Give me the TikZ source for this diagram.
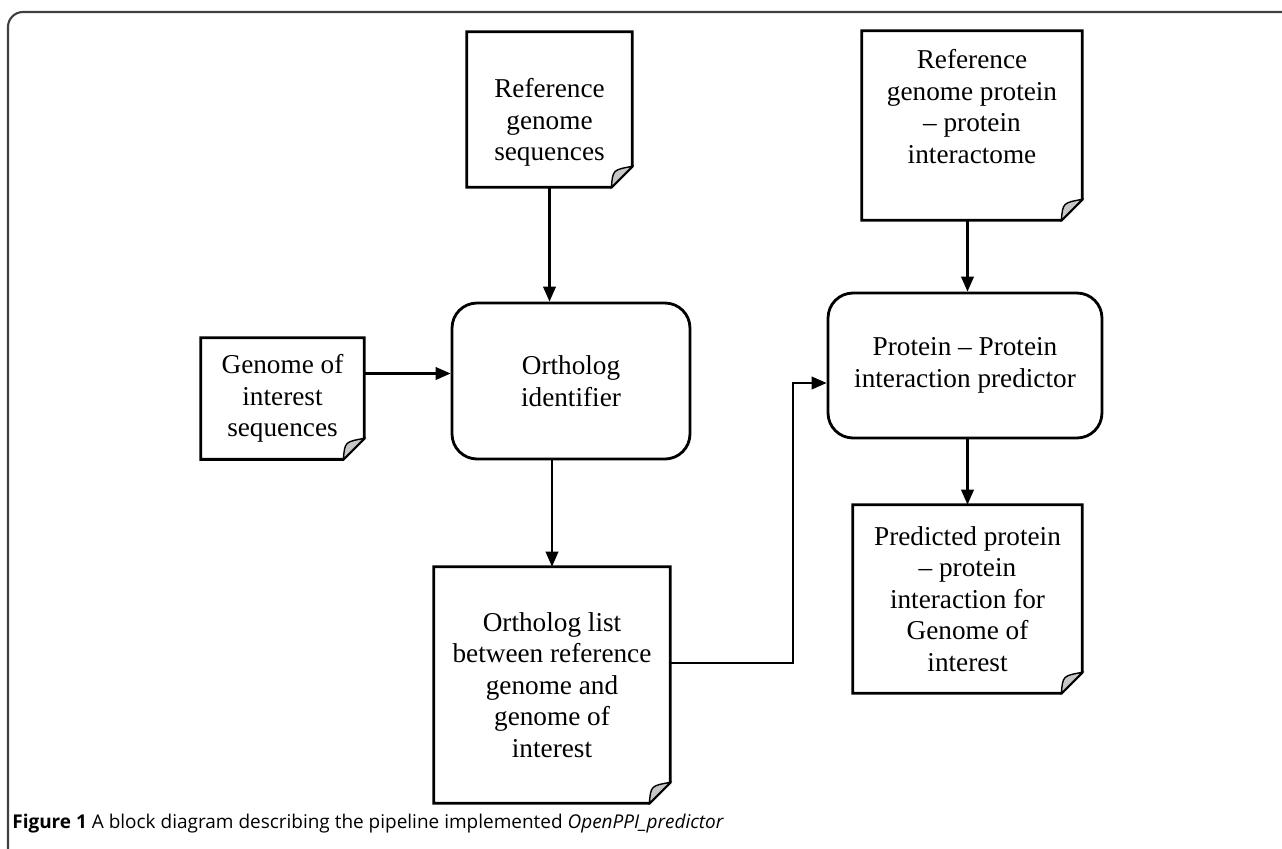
\documentclass[tikz,border=0pt]{standalone}
\usepackage{fontspec}
\setmainfont{Liberation Serif}
\newfontfamily\capfont{Open Sans}
\usetikzlibrary{arrows.meta}

\begin{document}
\begin{tikzpicture}[x=0.02cm, y=-0.02cm]

      \tikzset{docbox/.style={inner sep=0pt, align=center, font=\fontsize{15.5}{18}\selectfont},
               procbox/.style={draw, rounded corners=0.5cm, line width=1.6pt, inner sep=0pt, align=center, font=\fontsize{15.5}{18}\selectfont},
               flow/.style={line width=1.3pt, -{Triangle[length=0.3cm, width=0.25cm]}}}
      \useasboundingbox (0,0) rectangle (1282,849);
      \clip (0,0) rectangle (1282,849);
      \draw[gray!50!black, line width=1.2pt, rounded corners=0.3cm] (8,12) rectangle (1330,890);
%% Documents
      	\node[docbox, minimum width=3.3cm, minimum height=3.1cm] (refseq) at (549.5,109.5) {\rule{0pt}{0.9cm}Reference\\genome\\sequences};
      	\node[docbox, minimum width=3.26cm, minimum height=2.42cm] (goi) at (282.5,398.5) {Genome of\\interest\\sequences};
      	\node[docbox, minimum width=4.72cm, minimum height=4.72cm] (olist) at (552,685) {Ortholog list\\between reference\\genome and\\genome of\\interest};
      	\node[docbox, minimum width=4.4cm, minimum height=3.78cm, text depth=0.76cm] (refppi) at (972,125.5) {Reference\\genome protein\\-- protein\\interactome};
      	\node[docbox, minimum width=4.58cm, minimum height=3.76cm] (pred) at (967.5,599) {Predicted protein\\-- protein\\interaction for\\Genome of\\interest};
      	\foreach \d in {refseq,goi,olist,refppi,pred} {
      	  \draw[line width=1.6pt] (\d.north west) -- (\d.north east) -- ([yshift=0.42cm]\d.south east) -- ([xshift=-0.42cm]\d.south east) -- (\d.south west) -- cycle;
      	  \filldraw[fill=gray!45, line width=0.8pt] ([yshift=0.42cm]\d.south east) .. controls ([xshift=-0.39cm, yshift=0.35cm]\d.south east) .. ([xshift=-0.42cm]\d.south east) -- cycle;
      	}
%% Processes
      	\node[procbox, minimum width=4.76cm, minimum height=3.12cm] (ortho) at (571,381) {Ortholog\\identifier};
      	\node[procbox, minimum width=5.48cm, minimum height=2.9cm] (ppi) at (965,365.5) {Protein -- Protein\\interaction predictor};
%% Arrows
		\draw[flow] (refseq.south) -- (refseq.south |- ortho.north);
		\draw[flow] ([yshift=0.5cm]goi.east) -- ([yshift=0.5cm]goi.east -| ortho.west);
		\draw[flow] (olist.north |- ortho.south) -- (olist.north);
		\draw[flow] ([yshift=0.44cm]olist.east) -- ++(123,0) |- ([yshift=-0.35cm]ppi.west);
		\draw[flow] (refppi.south -| pred.north) -- (pred.north |- ppi.north);
		\draw[flow] (ppi.south -| pred.north) -- (pred.north);
%% Caption
		\node[anchor=base west, inner sep=0pt, font=\capfont\fontsize{10.8}{13}\selectfont] (caption) at (12,828) {\textbf{Figure 1} A block diagram describing the pipeline implemented \textit{OpenPPI\_predictor}};

	\end{tikzpicture}
\end{document}
